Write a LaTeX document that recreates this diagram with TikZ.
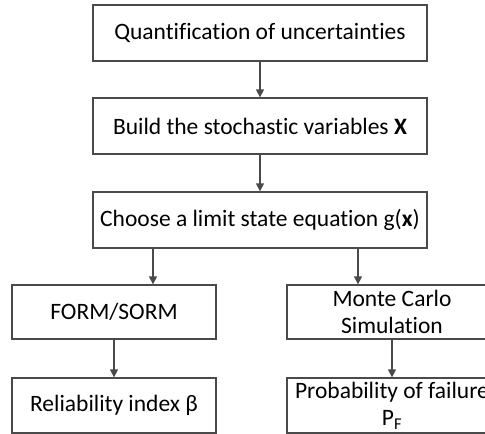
\documentclass[tikz,border=0pt]{standalone}
\usepackage{fontspec}
\setmainfont[Ligatures=NoCommon]{Carlito}
\usetikzlibrary{arrows.meta}
\definecolor{edgegray}{HTML}{4A4A4A}
\begin{document}
\begin{tikzpicture}[x=1pt,y=-1pt,
  every node/.style={font=\fontsize{23.5}{27}\selectfont, text=black},
  flowbox/.style={draw=edgegray, line width=1.3pt, fill=white, align=center,
    inner sep=0pt, minimum width=#1, minimum height=56pt},
  flowbox/.default=334pt,
  flowarrow/.style={draw=edgegray, line width=1.3pt,
    -{Triangle[width=8pt,length=8pt]}}]
  \clip (0,0) rectangle (485,434);
  \useasboundingbox (0,0) rectangle (485,434);

  % main chain
  \node[flowbox] (quant) at (260,33) {Quantification of uncertainties};
  \node[flowbox] (build) at (260,126) {Build the stochastic variables \textbf{X}};
  \node[flowbox] (limit) at (260,220) {Choose a limit state equation g(\textbf{x})};

  % two methods
  \node[flowbox=204pt, minimum height=54pt] (form) at (114,312) {FORM/SORM};
  \node[flowbox=210pt, minimum height=54pt] (mcs) at (392,312) {Monte Carlo\\Simulation};

  % results
  \node[flowbox=204pt, minimum height=55pt] (beta) at (114,405.5) {Reliability index β};
  \node[flowbox=210pt, minimum height=55pt] (pf) at (392,405.5) {Probability of failure\\P\textsubscript{F}};

  \coordinate (lbranch) at (153,0);
  \coordinate (rbranch) at (358,0);

  \draw[flowarrow] (quant) -- (build);
  \draw[flowarrow] (build) -- (limit);
  \draw[flowarrow] (limit.south -| lbranch) -- (form.north -| lbranch);
  \draw[flowarrow] (limit.south -| rbranch) -- (mcs.north -| rbranch);
  \draw[flowarrow] (form) -- (beta);
  \draw[flowarrow] (mcs) -- (pf);
\end{tikzpicture}
\end{document}
